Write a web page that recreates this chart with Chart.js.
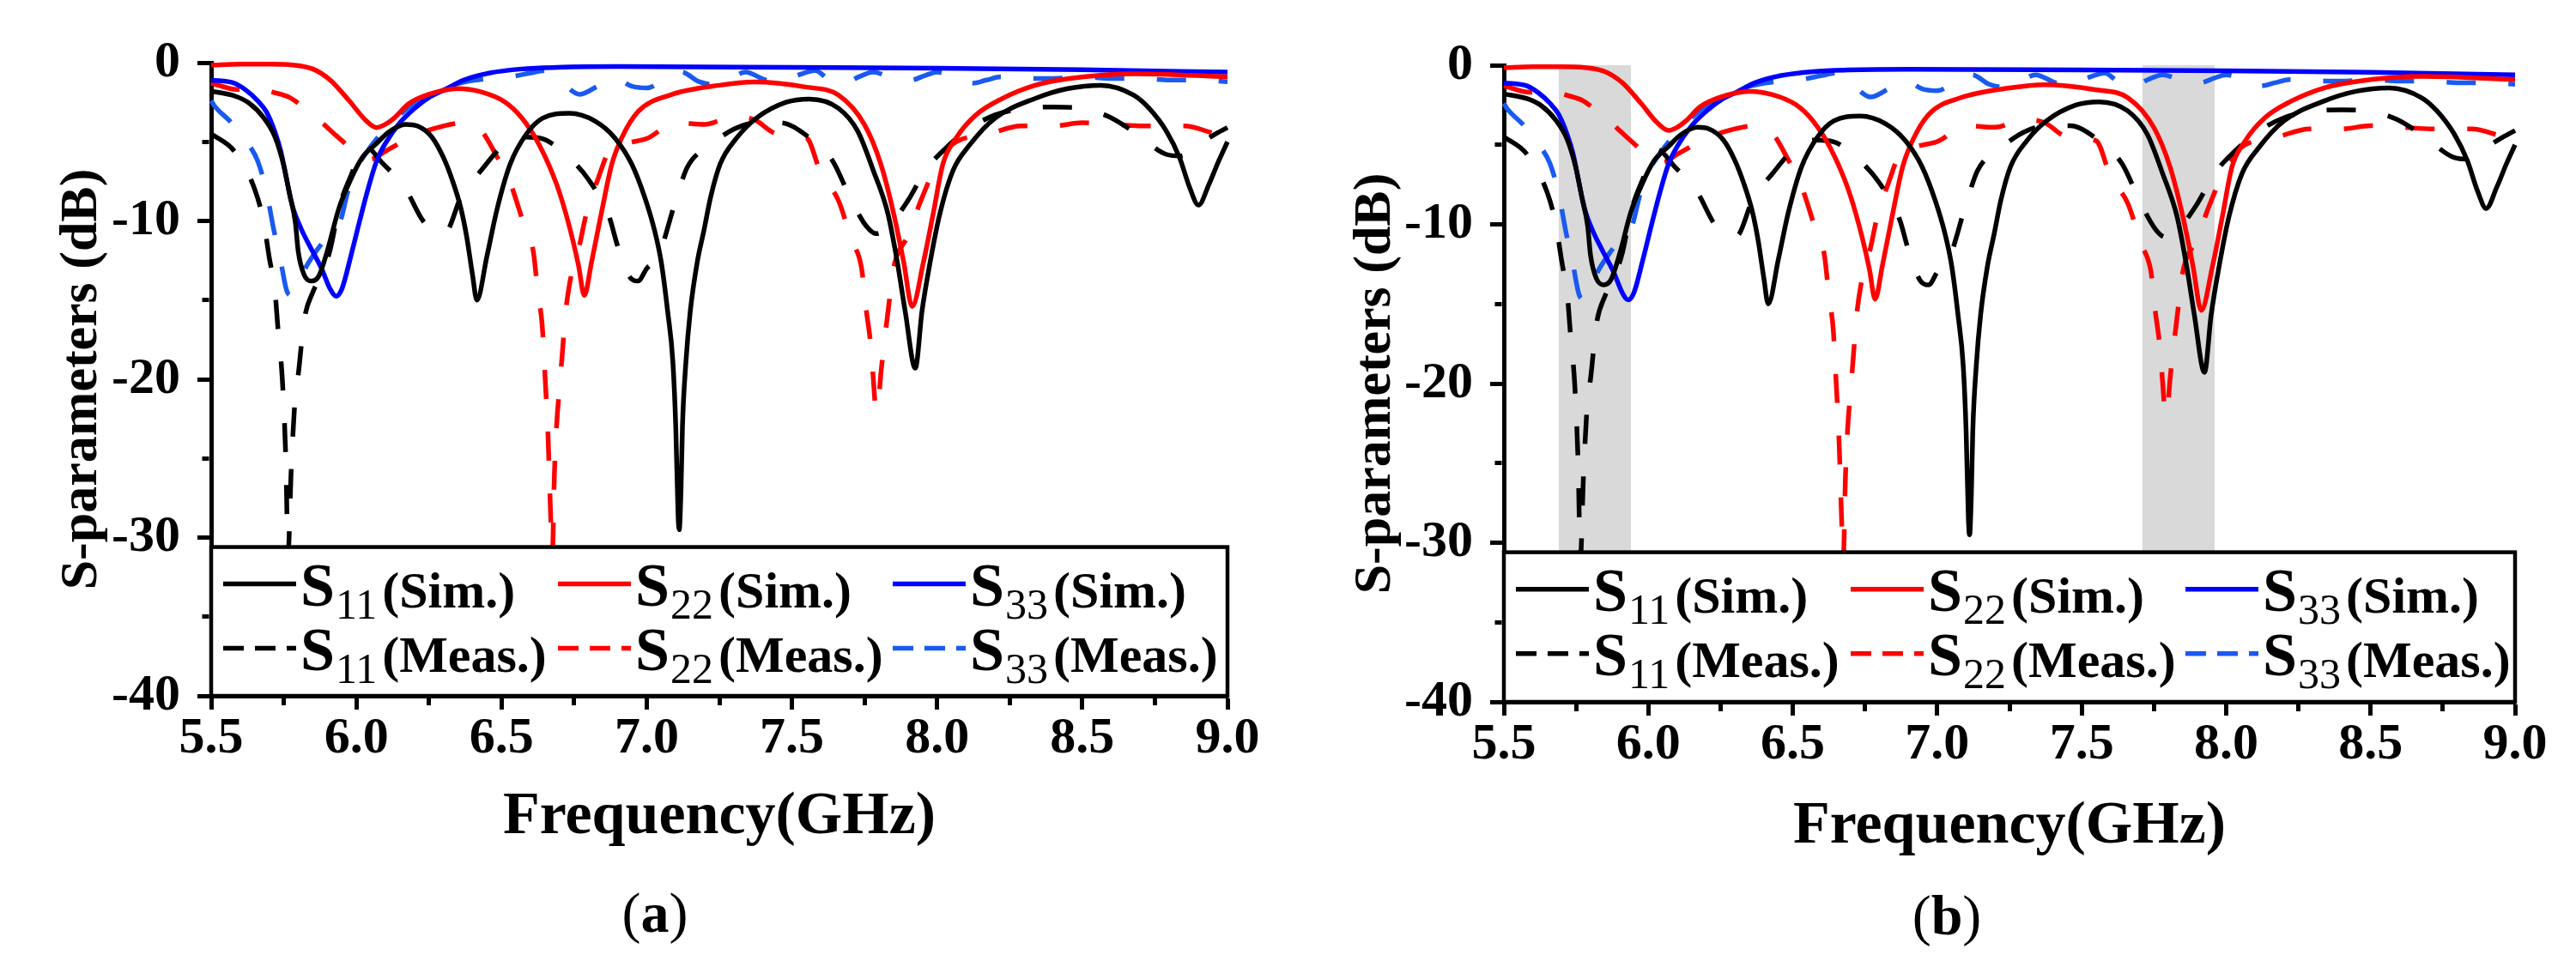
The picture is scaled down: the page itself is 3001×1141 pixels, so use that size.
<!DOCTYPE html>
<html>
<head>
<meta charset="utf-8">
<script src="https://cdn.jsdelivr.net/npm/chart.js@4.4.1/dist/chart.umd.min.js"></script>
<style>
  html, body { margin: 0; padding: 0; background: #fff; }
  #wrap { position: relative; width: 3001px; height: 1141px; }
  #wrap canvas { position: absolute; top: 0; }
</style>
</head>
<body>
<div id="wrap">
  <canvas id="panel-a" width="1500" height="1141" style="left:0px"></canvas>
  <canvas id="panel-b" width="1501" height="1141" style="left:1500px"></canvas>
</div>
<script>
const serif = "'Liberation Serif', 'Times New Roman', serif";

// axis ticks that carry a label
const xTicks = [5.5, 6.0, 6.5, 7.0, 7.5, 8.0, 8.5, 9.0];
const yTicks = [0, -10, -20, -30, -40];

const ports = ["11", "22", "33"];
const kinds = ["(Sim.)", "(Meas.)"];

// shaded frequency bands of panel (b), GHz
const shadedBands = [[5.69, 5.94], [7.71, 7.96]];
// top edge of the legend frame, dB
const legendTopDb = -30.6;

// [frequency GHz, dB]
const s11Sim = [
  [5.5, -1.8], [5.58, -2.1], [5.63, -2.55], [5.68, -3.46], [5.72, -4.7], [5.75, -6.5],
  [5.77, -8.3], [5.79, -10.1], [5.80, -11.95], [5.82, -13.4], [5.845, -13.8], [5.87, -13.5],
  [5.90, -11.9], [5.94, -9.2], [5.98, -7.4], [6.02, -6.0], [6.07, -5.1], [6.11, -4.4],
  [6.17, -3.9], [6.21, -4.0], [6.26, -4.7], [6.30, -6.0], [6.33, -7.4], [6.36, -9.2],
  [6.38, -11.0], [6.40, -13.4], [6.415, -15.0], [6.45, -12.2], [6.484, -9.3], [6.53, -6.4],
  [6.586, -4.5], [6.642, -3.5], [6.733, -3.2], [6.823, -3.7], [6.89, -4.75], [6.948, -6.4],
  [6.993, -8.5], [7.027, -10.6], [7.05, -12.6], [7.072, -15.7], [7.09, -18.9], [7.10, -23],
  [7.108, -28.6], [7.112, -29.5], [7.118, -27], [7.123, -23], [7.135, -18.9], [7.15, -15.7],
  [7.174, -12.6], [7.197, -10.6], [7.22, -8.5], [7.253, -6.4], [7.31, -4.75], [7.378, -3.5],
  [7.48, -2.5], [7.56, -2.3], [7.66, -2.88], [7.727, -4.34], [7.78, -6.8], [7.83, -9.5],
  [7.863, -12.6], [7.89, -15.7], [7.925, -19.3], [7.948, -15.7], [7.976, -12.6], [8.01, -9.5],
  [8.055, -6.8], [8.112, -5.2], [8.2, -3.5], [8.338, -2.26], [8.45, -1.64], [8.564, -1.43],
  [8.677, -2.05], [8.73, -2.88], [8.79, -4.34], [8.835, -6.0], [8.87, -7.9], [8.9, -9.0],
  [8.937, -7.65], [8.97, -6.2], [9.0, -5.0]
];

const s22Sim = [
  [5.5, -0.15], [5.6, -0.1], [5.7, -0.1], [5.78, -0.15], [5.85, -0.4], [5.91, -1.1],
  [5.975, -2.4], [6.03, -3.6], [6.07, -4.1], [6.1, -3.9], [6.13, -3.5], [6.18, -2.6],
  [6.25, -2.0], [6.35, -1.64], [6.43, -1.85], [6.51, -2.47], [6.57, -3.5], [6.63, -5.2],
  [6.69, -7.7], [6.73, -10.1], [6.765, -12.8], [6.785, -14.7], [6.81, -12.6], [6.846, -9.3],
  [6.88, -6.4], [6.914, -4.75], [6.97, -3.1], [7.08, -2.05], [7.25, -1.43], [7.37, -1.22],
  [7.546, -1.54], [7.66, -2.05], [7.75, -3.92], [7.806, -6.4], [7.85, -9.5], [7.885, -12.6],
  [7.914, -15.4], [7.953, -12.6], [7.987, -9.5], [8.02, -6.4], [8.066, -4.75], [8.134, -3.3],
  [8.225, -2.26], [8.338, -1.43], [8.45, -1.02], [8.68, -0.7], [9.0, -0.9]
];

const s33Sim = [
  [5.5, -1.1], [5.58, -1.3], [5.62, -1.74], [5.66, -2.4], [5.69, -3.1], [5.72, -4.4],
  [5.74, -5.6], [5.76, -7.4], [5.78, -9.06], [5.81, -10.5], [5.84, -11.6], [5.88, -13.0],
  [5.91, -14.3], [5.93, -14.75], [5.95, -14.3], [5.98, -12.3], [6.01, -10.1], [6.04, -8.0],
  [6.07, -6.2], [6.10, -5.1], [6.15, -3.8], [6.2, -2.9], [6.25, -2.2], [6.31, -1.65],
  [6.37, -1.1], [6.46, -0.65], [6.57, -0.4], [6.69, -0.3], [6.9, -0.25], [7.5, -0.3],
  [8.0, -0.35], [8.5, -0.45], [9.0, -0.6]
];

const s11Meas = [
  [5.5, -4.5], [5.58, -5.6], [5.65, -8.0], [5.68, -10.0], [5.70, -12.3], [5.72, -14.5],
  [5.73, -16.8], [5.745, -20], [5.757, -25], [5.765, -31], [5.775, -26], [5.79, -21],
  [5.80, -19.7], [5.82, -16.3], [5.85, -14.5], [5.88, -13.4], [5.91, -11.8], [5.94, -9.2],
  [5.98, -7.2], [6.03, -5.3], [6.09, -6.35], [6.17, -8.0], [6.23, -10.0], [6.29, -10.8],
  [6.31, -10.7], [6.36, -8.5], [6.43, -6.8], [6.52, -5.0], [6.58, -4.7], [6.64, -4.8],
  [6.72, -5.8], [6.8, -7.4], [6.87, -9.7], [6.9, -11.6], [6.94, -13.5], [6.97, -13.8],
  [7.0, -13.0], [7.04, -12.2], [7.1, -8.7], [7.14, -6.6], [7.22, -5.2], [7.3, -4.2],
  [7.38, -3.8], [7.46, -3.8], [7.55, -4.6], [7.64, -6.2], [7.70, -8.5], [7.755, -10.3],
  [7.79, -10.8], [7.835, -10.3], [7.9, -8.7], [7.96, -6.8], [8.03, -5.4], [8.1, -4.3],
  [8.2, -3.3], [8.3, -2.9], [8.4, -2.8], [8.5, -2.9], [8.59, -3.4], [8.68, -4.4],
  [8.79, -5.8], [8.84, -5.9], [8.89, -5.3], [8.95, -4.6], [9.0, -4.1]
];

const s22Meas = [
  [5.5, -1.3], [5.59, -1.7], [5.65, -1.6], [5.72, -1.9], [5.77, -2.2], [5.81, -2.7],
  [5.87, -3.6], [5.93, -4.6], [5.98, -5.4], [6.02, -6.0], [6.05, -6.1], [6.1, -5.6],
  [6.2, -4.6], [6.3, -4.0], [6.37, -3.8], [6.43, -4.3], [6.48, -5.8], [6.53, -7.6],
  [6.575, -10.1], [6.61, -12.0], [6.625, -14.5], [6.64, -16.6], [6.65, -19.9], [6.66, -23.5],
  [6.668, -28], [6.675, -31], [6.682, -26], [6.69, -22.8], [6.70, -20.5], [6.71, -18.2],
  [6.72, -15.9], [6.735, -13.9], [6.77, -11.4], [6.79, -9.7], [6.835, -7.2], [6.87, -5.6],
  [6.93, -5.1], [7.0, -4.8], [7.1, -3.8], [7.2, -3.9], [7.3, -3.4], [7.37, -3.6],
  [7.45, -4.5], [7.55, -4.75], [7.6, -7.0], [7.66, -8.7], [7.705, -11.2], [7.74, -13.0],
  [7.755, -15.5], [7.77, -17.6], [7.78, -19.9], [7.79, -22], [7.80, -21], [7.806, -19.7],
  [7.82, -17.4], [7.835, -15.1], [7.85, -13.0], [7.9, -10.9], [7.94, -8.9], [8.0, -6.4],
  [8.05, -5.2], [8.18, -4.5], [8.29, -4.0], [8.4, -4.0], [8.5, -3.8], [8.61, -3.9],
  [8.71, -4.0], [8.85, -4.0], [8.94, -4.4], [9.0, -4.8]
];

const s33Meas = [
  [5.5, -2.4], [5.51, -2.7], [5.57, -3.8], [5.63, -5.2], [5.66, -6.2], [5.69, -8.1],
  [5.715, -10.5], [5.74, -12.6], [5.76, -14.4], [5.775, -14.7], [5.80, -13.9], [5.83, -12.8],
  [5.866, -11.8], [5.9, -11.0], [5.945, -10.0], [5.97, -8.2], [6.0, -6.7], [6.03, -5.8],
  [6.08, -4.6], [6.15, -3.3], [6.22, -2.3], [6.3, -1.6], [6.38, -1.2], [6.46, -1.0],
  [6.53, -0.9], [6.6, -0.65], [6.65, -0.5], [6.71, -1.3], [6.77, -2.0], [6.83, -1.5],
  [6.89, -1.0], [6.95, -1.5], [7.0, -1.6], [7.06, -1.1], [7.12, -0.6], [7.18, -1.2],
  [7.24, -1.4], [7.29, -1.0], [7.34, -0.6], [7.41, -1.1], [7.47, -1.2], [7.52, -0.8],
  [7.58, -0.5], [7.63, -1.1], [7.68, -1.3], [7.73, -0.9], [7.78, -0.6], [7.85, -1.0],
  [7.91, -1.1], [7.96, -0.8], [8.0, -0.6], [8.07, -1.0], [8.12, -1.3], [8.17, -1.1],
  [8.22, -0.9], [8.3, -1.0], [8.4, -1.0], [8.5, -0.9], [8.6, -1.0], [8.7, -1.0],
  [8.8, -1.1], [8.9, -1.1], [9.0, -1.2]
];

const dashed = [34, 38];
const legendDash = [24, 13];
const series = [
  { data: s11Sim, port: ports[0], kind: kinds[0], color: "#000000", dash: [] },
  { data: s22Sim, port: ports[1], kind: kinds[0], color: "#ff0000", dash: [] },
  { data: s33Sim, port: ports[2], kind: kinds[0], color: "#0000ff", dash: [] },
  { data: s11Meas, port: ports[0], kind: kinds[1], color: "#000000", dash: dashed },
  { data: s22Meas, port: ports[1], kind: kinds[1], color: "#ff0000", dash: dashed },
  { data: s33Meas, port: ports[2], kind: kinds[1], color: "#1a5af0", dash: dashed },
];

const near = (a, b) => Math.abs(a - b) < 1e-6;
const isMajorX = (v) => xTicks.some((t) => near(t, v));
const isMajorY = (v) => yTicks.some((t) => near(t, v));

function buildDatasets() {
  return series.map((s) => ({
    label: "S" + s.port + s.kind,
    port: s.port,
    kind: s.kind,
    data: s.data.map(([x, y]) => ({ x: x, y: y })),
    borderColor: s.color,
    borderWidth: 5.5,
    borderDash: s.dash,
    pointRadius: 0,
    cubicInterpolationMode: "monotone",
    fill: false,
    clip: false,
  }));
}

function makeChart(id, p) {
  let shade = {
    id: "shade",
    beforeDatasetsDraw(chart) {
      let { ctx, chartArea } = chart;
      let x = chart.scales.x;
      ctx.save();
      ctx.fillStyle = "#d9d9d9";
      p.bands.forEach(([a, b]) => {
        let x0 = x.getPixelForValue(a);
        let x1 = x.getPixelForValue(b);
        ctx.fillRect(x0, chartArea.top, x1 - x0, chartArea.bottom - chartArea.top);
      });
      ctx.restore();
    },
  };

  let legendBox = {
    id: "legendBox",
    afterDatasetsDraw(chart) {
      let { ctx, chartArea } = chart;
      let top = chart.scales.y.getPixelForValue(legendTopDb);
      let left = chartArea.left;
      let right = chartArea.right;
      let bottom = chartArea.bottom;
      ctx.save();
      ctx.fillStyle = "#ffffff";
      ctx.fillRect(left, top, right - left, bottom - top);
      ctx.lineWidth = 4.5;
      ctx.strokeStyle = "#000";
      ctx.strokeRect(left, top, right - left, bottom - top);

      chart.data.datasets.forEach((ds, i) => {
        let col = i % 3;
        let row = Math.floor(i / 3);
        let x0 = left + 14 + col * 390;
        let yy = top + 43 + row * 75;
        ctx.setLineDash(ds.borderDash.length ? legendDash : []);
        ctx.lineWidth = 5.5;
        ctx.strokeStyle = ds.borderColor;
        ctx.beginPath();
        ctx.moveTo(x0, yy);
        ctx.lineTo(x0 + 85, yy);
        ctx.stroke();
        ctx.setLineDash([]);

        ctx.fillStyle = "#000";
        ctx.textBaseline = "alphabetic";
        ctx.textAlign = "left";
        let tx = x0 + 90;
        ctx.font = "bold 72px " + serif;
        ctx.fillText("S", tx, yy + 25);
        tx += ctx.measureText("S").width + 1;
        ctx.font = "50px " + serif;
        ctx.fillText(ds.port, tx, yy + 40);
        tx += ctx.measureText(ds.port).width + 6;
        ctx.font = "bold 60px " + serif;
        ctx.fillText(ds.kind, tx, yy + 27);
      });
      ctx.restore();
    },
  };

  let caption = {
    id: "caption",
    afterDraw(chart) {
      let ctx = chart.ctx;
      let parts = [["(", ""], [p.letter, "bold "], [")", ""]];
      ctx.save();
      ctx.fillStyle = "#000";
      ctx.textBaseline = "middle";
      ctx.textAlign = "left";
      let total = 0;
      parts.forEach(([t, w]) => {
        ctx.font = w + "66px " + serif;
        total += ctx.measureText(t).width;
      });
      let x = p.capX - total / 2;
      parts.forEach(([t, w]) => {
        ctx.font = w + "66px " + serif;
        ctx.fillText(t, x, p.capY);
        x += ctx.measureText(t).width;
      });
      ctx.restore();
    },
  };

  return new Chart(document.getElementById(id), {
    type: "line",
    data: { datasets: buildDatasets() },
    plugins: [shade, legendBox, caption],
    options: {
      responsive: false,
      animation: false,
      devicePixelRatio: 1,
      layout: {
        padding: { left: 0, right: p.padRight, top: p.padTop, bottom: p.padBottom },
      },
      plugins: {
        legend: { display: false },
        tooltip: { enabled: false },
      },
      scales: {
        x: {
          type: "linear",
          min: 5.5,
          max: 9.0,
          afterFit: (s) => { s.height = 200; },
          border: { display: true, color: "#000", width: 5 },
          grid: {
            drawOnChartArea: false,
            drawTicks: true,
            tickLength: 16,
            tickWidth: 5,
            tickColor: "#000",
            tickBorderDash: (c) => (c.tick && !isMajorX(c.tick.value) ? [8, 100] : []),
          },
          ticks: {
            stepSize: 0.25,
            autoSkip: false,
            maxRotation: 0,
            padding: -2,
            color: "#000",
            font: { family: serif, size: 60, weight: "bold" },
            callback: (v) => (isMajorX(v) ? Number(v).toFixed(1) : ""),
          },
          title: {
            display: true,
            text: "Frequency(GHz)",
            color: "#000",
            font: { family: serif, size: 70, weight: "bold" },
            padding: { top: 0, bottom: p.xTitlePad },
          },
        },
        y: {
          min: -40,
          max: 0,
          afterFit: (s) => { s.width = p.yWidth; },
          border: { display: true, color: "#000", width: 5 },
          grid: {
            drawOnChartArea: false,
            drawTicks: true,
            tickLength: 16,
            tickWidth: 5,
            tickColor: "#000",
            tickBorderDash: (c) => (c.tick && !isMajorY(c.tick.value) ? [0, 5.5, 8, 100] : []),
          },
          ticks: {
            stepSize: 5,
            autoSkip: false,
            padding: 20,
            color: "#000",
            font: { family: serif, size: 60, weight: "bold" },
            callback: (v) => (isMajorY(v) ? String(v) : ""),
          },
          title: {
            display: true,
            text: "S-parameters (dB)",
            color: "#000",
            font: { family: serif, size: 62, weight: "bold" },
            padding: { top: p.yTitlePad, bottom: 0 },
          },
        },
      },
    },
  });
}

makeChart("panel-a", {
  yWidth: 246, padRight: 70, padTop: 73, padBottom: 130,
  yTitlePad: 59, xTitlePad: 16, bands: [], letter: "a", capX: 763, capY: 1069,
});
makeChart("panel-b", {
  yWidth: 252, padRight: 71, padTop: 76, padBottom: 123,
  yTitlePad: 66, xTitlePad: 12, bands: shadedBands, letter: "b", capX: 768, capY: 1072,
});
</script>
</body>
</html>
